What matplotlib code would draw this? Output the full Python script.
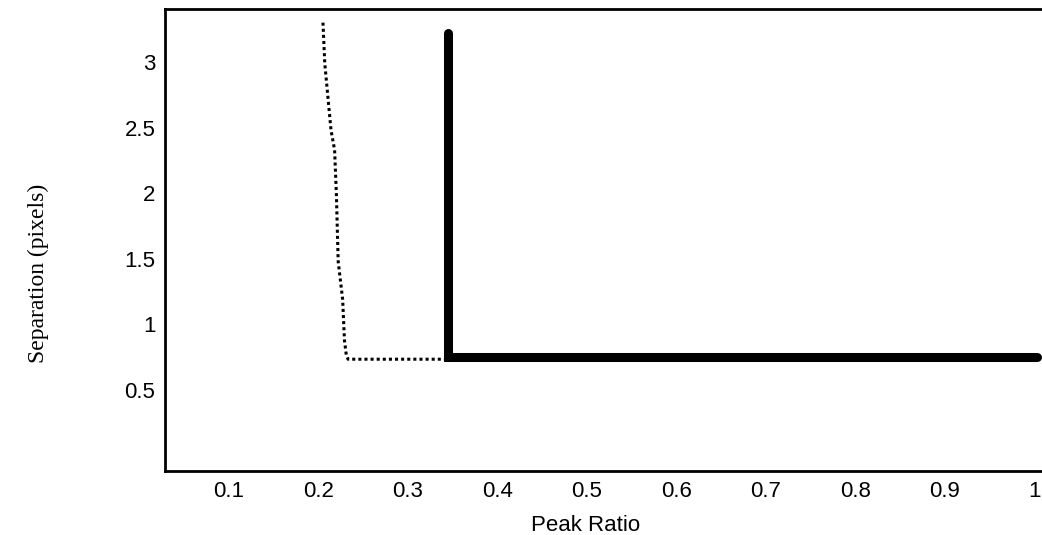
import matplotlib
matplotlib.use('Agg')
import matplotlib.pyplot as plt

# threshold curves
dottedRatio = [0.205, 0.207, 0.214, 0.218, 0.220, 0.222, 0.227, 0.229, 0.231, 0.233, 0.345]
dottedSep   = [3.30, 2.99, 2.48, 2.33, 1.99, 1.48, 1.19, 0.88, 0.77, 0.735, 0.735]
solidRatio  = [0.345, 0.345, 1.003]
solidSep    = [3.22, 0.75, 0.75]

xTicks = [0.1, 0.2, 0.3, 0.4, 0.5, 0.6, 0.7, 0.8, 0.9, 1.0]
xTickLabels = ['0.1', '0.2', '0.3', '0.4', '0.5', '0.6', '0.7', '0.8', '0.9', '1']
yTicks = [0.5, 1.0, 1.5, 2.0, 2.5, 3.0]
yTickLabels = ['0.5', '1', '1.5', '2', '2.5', '3']

dpi = 100
fig = plt.figure(figsize=(1042/dpi, 535/dpi), dpi=dpi)
ax = fig.add_axes([165/1042, 1 - 471/535, 1 - 165/1042, (471 - 9)/535])

ax.plot(dottedRatio, dottedSep, color='black', linewidth=2.2, linestyle=(0, (1, 1)))
ax.plot(solidRatio, solidSep, color='black', linewidth=6.5,
        solid_capstyle='round', solid_joinstyle='miter')

ax.set_xlim(0.0285, 1.0084)
ax.set_ylim(-0.117, 3.404)

ax.set_xticks(xTicks)
ax.set_xticklabels(xTickLabels, family='Liberation Sans', fontsize=16)
ax.set_yticks(yTicks)
ax.set_yticklabels(yTickLabels, family='Liberation Sans', fontsize=16)
ax.tick_params(length=0, pad=7)

for side in ['left', 'bottom', 'top']:
    ax.spines[side].set_linewidth(2)
ax.spines['right'].set_visible(False)

ax.set_xlabel('Peak Ratio', family='Liberation Sans', fontsize=16)
ax.xaxis.set_label_coords(0.48, -0.095)
ax.set_ylabel('Separation (pixels)', family='Liberation Serif', fontsize=17)
ax.yaxis.set_label_coords(-0.132, 0.4286)

fig.savefig('out.png', dpi=dpi)
